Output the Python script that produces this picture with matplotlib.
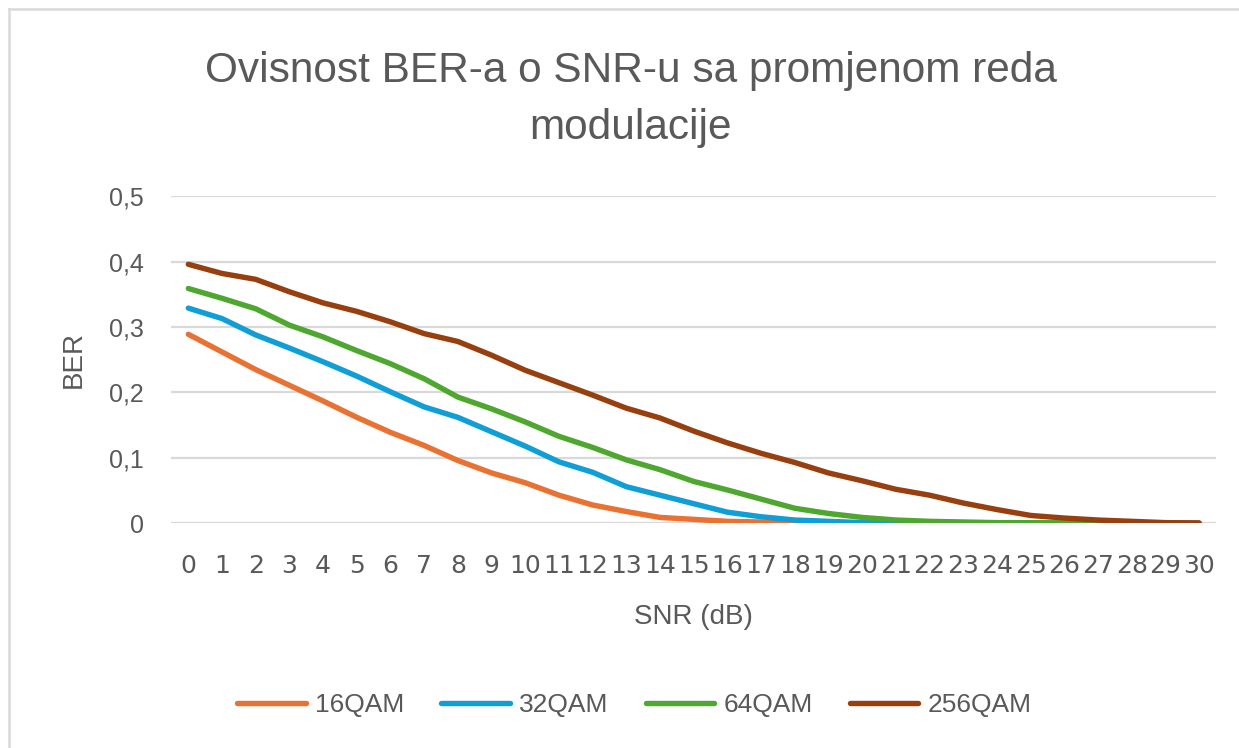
import matplotlib
matplotlib.use("Agg")
import matplotlib.pyplot as plt
from matplotlib.lines import Line2D
from matplotlib.ticker import FuncFormatter, MultipleLocator

snr = list(range(31))
ber_16qam = [0.289, 0.262, 0.235, 0.211, 0.187, 0.162, 0.139, 0.119, 0.096, 0.077,
             0.062, 0.043, 0.028, 0.018, 0.009, 0.006, 0.003, 0.002, 0.001, 0.0,
             0.0, 0.0, 0.0, 0.0, 0.0, 0.0, 0.0, 0.0, 0.0, 0.0, 0.0]
ber_32qam = [0.329, 0.313, 0.288, 0.268, 0.247, 0.225, 0.201, 0.178, 0.162, 0.140,
             0.118, 0.094, 0.078, 0.056, 0.043, 0.030, 0.017, 0.010, 0.005, 0.003,
             0.001, 0.0005, 0.0, 0.0, 0.0, 0.0, 0.0, 0.0, 0.0, 0.0, 0.0]
ber_64qam = [0.359, 0.344, 0.328, 0.303, 0.285, 0.264, 0.244, 0.221, 0.193, 0.175,
             0.155, 0.133, 0.116, 0.097, 0.082, 0.064, 0.051, 0.037, 0.023, 0.015,
             0.009, 0.005, 0.003, 0.002, 0.001, 0.001, 0.0005, 0.0, 0.0, 0.0, 0.0]
ber_256qam = [0.396, 0.382, 0.373, 0.354, 0.337, 0.324, 0.308, 0.290, 0.278, 0.257,
              0.234, 0.215, 0.196, 0.176, 0.161, 0.141, 0.123, 0.107, 0.093, 0.077,
              0.065, 0.052, 0.043, 0.031, 0.021, 0.012, 0.008, 0.005, 0.003, 0.001, 0.0005]

labels = ["16QAM", "32QAM", "64QAM", "256QAM"]
colors = ["#E97132", "#0F9ED5", "#4EA72E", "#973F0E"]

TEXT = "#595959"
GRID = "#D9D9D9"
FONT = ["Liberation Sans", "DejaVu Sans"]

fig = plt.figure(figsize=(12.39, 7.48), dpi=100)
ax = fig.add_axes([0.1384, 0.3004, 0.843, 0.4372])

for y, lab, c in zip([ber_16qam, ber_32qam, ber_64qam, ber_256qam], labels, colors):
    ax.plot(snr, y, color=c, lw=3.9, label=lab, solid_capstyle="round", solid_joinstyle="round")

ax.set_xlim(-0.5, 30.5)
ax.set_ylim(0, 0.5)
ax.yaxis.set_major_locator(MultipleLocator(0.1))
ax.yaxis.set_major_formatter(FuncFormatter(lambda v, p: "0" if abs(v) < 1e-9 else f"{v:.1f}".replace(".", ",")))
ax.set_xticks(snr)
ax.grid(axis="y", color=GRID, lw=1.6)
ax.set_axisbelow(True)
for s in ax.spines.values():
    s.set_visible(False)
ax.tick_params(axis="both", length=0, colors=TEXT)
ax.tick_params(axis="x", pad=22, labelsize=18)
ax.tick_params(axis="y", pad=20, labelsize=18)
for t in ax.get_xticklabels():
    t.set_family("DejaVu Sans")
for t in ax.get_yticklabels():
    t.set_family("Liberation Sans")

ax.set_ylabel("BER", fontsize=20, color=TEXT, family=FONT, labelpad=16)
ax.set_xlabel("SNR (dB)", fontsize=20, color=TEXT, family=FONT, labelpad=19)

fig.text(0.509, 0.905, "Ovisnost BER-a o SNR-u sa promjenom reda", ha="center", va="center",
         fontsize=30.5, color=TEXT, family=FONT)
fig.text(0.509, 0.829, "modulacije", ha="center", va="center",
         fontsize=30.5, color=TEXT, family=FONT)

leg = fig.legend(loc="center", bbox_to_anchor=(0.512, 0.0575), ncol=4, frameon=False,
                 prop={"family": FONT, "size": 19}, handlelength=2.6, handletextpad=0.35,
                 columnspacing=1.4)
for t in leg.get_texts():
    t.set_color(TEXT)
for h in leg.get_lines():
    h.set_linewidth(3.9)
    h.set_solid_capstyle("round")

fig.add_artist(Line2D([8.5 / 1239, 8.5 / 1239], [0, 1 - 9 / 748], transform=fig.transFigure, color=GRID, lw=1.8))
fig.add_artist(Line2D([8.5 / 1239, 1], [1 - 9 / 748, 1 - 9 / 748], transform=fig.transFigure, color=GRID, lw=1.8))

fig.savefig("out.png", dpi=100, facecolor="white")
